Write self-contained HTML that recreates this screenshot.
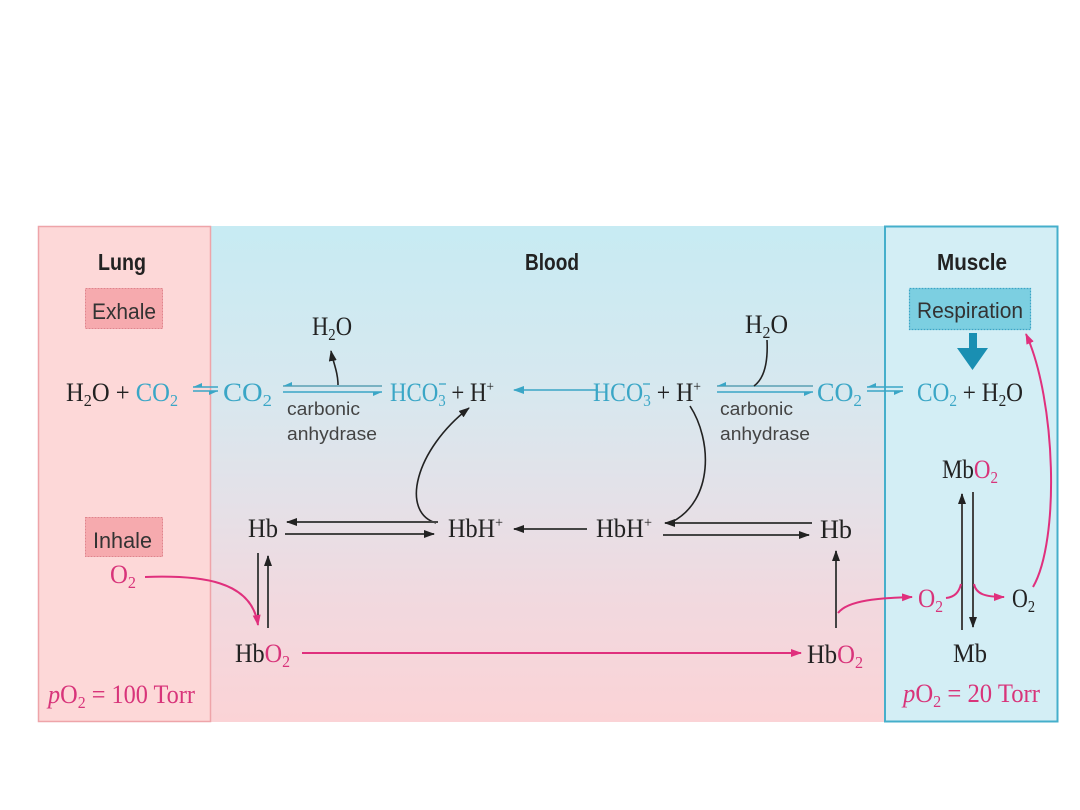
<!DOCTYPE html>
<html><head><meta charset="utf-8"><style>
html,body{margin:0;padding:0;background:#fff;}
svg{display:block;}
.s{font-family:"Liberation Serif",serif;font-size:26px;fill:#222;}
.h{font-family:"Liberation Sans",sans-serif;font-weight:bold;font-size:23px;fill:#222;}
.b{font-family:"Liberation Sans",sans-serif;font-size:22px;fill:#333;}
.ca{font-family:"Liberation Sans",sans-serif;font-size:18px;fill:#444;}
.c{fill:#3aa6c6;}
.m{fill:#d8347a;}
.k{fill:#222;}
</style></head><body>
<svg width="1080" height="810" viewBox="0 0 1080 810" xmlns="http://www.w3.org/2000/svg">
<defs>
<linearGradient id="bg" x1="0" y1="0" x2="0" y2="1">
<stop offset="0" stop-color="#c7ebf3"/>
<stop offset="0.33" stop-color="#d7e8ef"/>
<stop offset="0.55" stop-color="#e4e1e8"/>
<stop offset="0.75" stop-color="#f1d9df"/>
<stop offset="1" stop-color="#fbd3d6"/>
</linearGradient>
<marker id="ab" markerUnits="userSpaceOnUse" markerWidth="11" markerHeight="8" refX="10" refY="4" orient="auto"><path d="M0,0 L11,4 L0,8 z" fill="#222"/></marker>
<marker id="am" markerUnits="userSpaceOnUse" markerWidth="11" markerHeight="8" refX="10" refY="4" orient="auto"><path d="M0,0 L11,4 L0,8 z" fill="#e0307d"/></marker>
<marker id="ac" markerUnits="userSpaceOnUse" markerWidth="11" markerHeight="8" refX="10" refY="4" orient="auto"><path d="M0,0 L11,4 L0,8 z" fill="#3aa6c6"/></marker>
</defs>

<!-- panels -->
<rect x="211" y="226" width="674" height="496" fill="url(#bg)"/>
<rect x="38.5" y="226.5" width="172" height="495" fill="#fdd8d8" stroke="#eea4a9" stroke-width="1.5"/>
<rect x="885" y="226.5" width="172.5" height="495" fill="#d3eef5" stroke="#45afcb" stroke-width="2"/>

<!-- headings -->
<text class="h" x="98" y="270" textLength="48" lengthAdjust="spacingAndGlyphs">Lung</text>
<text class="h" x="525" y="270" textLength="54" lengthAdjust="spacingAndGlyphs">Blood</text>
<text class="h" x="937" y="270" textLength="70" lengthAdjust="spacingAndGlyphs">Muscle</text>

<!-- boxes -->
<rect x="85.5" y="288.5" width="77" height="40" fill="#f6aaae" stroke="#e0848c" stroke-width="1" stroke-dasharray="2,1"/>
<text class="b" x="92" y="319" textLength="64" lengthAdjust="spacingAndGlyphs">Exhale</text>
<rect x="85.5" y="517.5" width="77" height="39" fill="#f6aaae" stroke="#e0848c" stroke-width="1" stroke-dasharray="2,1"/>
<text class="b" x="93" y="548" textLength="59" lengthAdjust="spacingAndGlyphs">Inhale</text>
<rect x="909.5" y="288.5" width="121" height="41" fill="#7ccfe1" stroke="#3aa6c6" stroke-width="1.2" stroke-dasharray="2,1"/>
<text class="b" x="917" y="318" textLength="106" lengthAdjust="spacingAndGlyphs">Respiration</text>

<!-- big teal arrow -->
<polygon points="969,333 977,333 977,348 988,348 972.5,370 957,348 969,348" fill="#1a8fb2"/>

<!-- Row 1 text -->
<text class="s" x="66" y="401" textLength="112" lengthAdjust="spacingAndGlyphs"><tspan class="k">H</tspan><tspan class="k" font-size="17" dy="5">2</tspan><tspan class="k" dy="-5">O + </tspan><tspan class="c">CO</tspan><tspan class="c" font-size="17" dy="5">2</tspan></text>
<text class="s c" x="223" y="401" textLength="49" lengthAdjust="spacingAndGlyphs">CO<tspan font-size="17" dy="5">2</tspan></text>
<text class="s" x="390" y="401" textLength="104" lengthAdjust="spacingAndGlyphs"><tspan class="c">HCO</tspan><tspan class="c" font-size="17" dy="5">3</tspan><tspan class="k" dy="-5"> + H</tspan><tspan class="k" font-size="15" dy="-10">+</tspan></text>
<line x1="439" y1="384" x2="446" y2="384" stroke="#3aa6c6" stroke-width="1.3"/>
<text class="s" x="593" y="401" textLength="108" lengthAdjust="spacingAndGlyphs"><tspan class="c">HCO</tspan><tspan class="c" font-size="17" dy="5">3</tspan><tspan class="k" dy="-5"> + H</tspan><tspan class="k" font-size="15" dy="-10">+</tspan></text>
<line x1="643" y1="384" x2="650" y2="384" stroke="#3aa6c6" stroke-width="1.3"/>
<text class="s c" x="817" y="401" textLength="45" lengthAdjust="spacingAndGlyphs">CO<tspan font-size="17" dy="5">2</tspan></text>
<text class="s" x="917" y="401" textLength="106" lengthAdjust="spacingAndGlyphs"><tspan class="c">CO</tspan><tspan class="c" font-size="17" dy="5">2</tspan><tspan class="k" dy="-5"> + H</tspan><tspan class="k" font-size="17" dy="5">2</tspan><tspan class="k" dy="-5">O</tspan></text>

<text class="s" x="312" y="335" textLength="40" lengthAdjust="spacingAndGlyphs">H<tspan font-size="17" dy="5">2</tspan><tspan dy="-5">O</tspan></text>
<text class="s" x="745" y="333" textLength="43" lengthAdjust="spacingAndGlyphs">H<tspan font-size="17" dy="5">2</tspan><tspan dy="-5">O</tspan></text>

<text class="ca" x="287" y="415" textLength="73" lengthAdjust="spacingAndGlyphs">carbonic</text>
<text class="ca" x="287" y="440" textLength="90" lengthAdjust="spacingAndGlyphs">anhydrase</text>
<text class="ca" x="720" y="415" textLength="73" lengthAdjust="spacingAndGlyphs">carbonic</text>
<text class="ca" x="720" y="440" textLength="90" lengthAdjust="spacingAndGlyphs">anhydrase</text>

<!-- Row 1 equilibrium arrows -->
<g stroke="#3aa6c6" stroke-width="1.6" fill="#3aa6c6">
<line x1="193" y1="387" x2="218" y2="387"/><polygon points="193,387 202,383 202,387" stroke="none"/>
<line x1="193" y1="391" x2="218" y2="391"/><polygon points="218,391 209,395 209,391" stroke="none"/>
<line x1="283" y1="386" x2="382" y2="386" stroke="#5aa0b4"/><polygon points="283,386 292,382 292,386" stroke="none"/>
<line x1="283" y1="392" x2="382" y2="392"/><polygon points="382,392 373,396 373,392" stroke="none"/>
<line x1="717" y1="386" x2="813" y2="386" stroke="#5aa0b4"/><polygon points="717,386 726,382 726,386" stroke="none"/>
<line x1="717" y1="392" x2="813" y2="392"/><polygon points="813,392 804,396 804,392" stroke="none"/>
<line x1="867" y1="387" x2="903" y2="387"/><polygon points="867,387 876,383 876,387" stroke="none"/>
<line x1="867" y1="391" x2="903" y2="391"/><polygon points="903,391 894,395 894,391" stroke="none"/>
</g>
<line x1="598" y1="390" x2="514" y2="390" stroke="#3aa6c6" stroke-width="1.6" marker-end="url(#ac)"/>

<!-- H2O curves -->
<path d="M338,385 C338,372 333,362 331,351" fill="none" stroke="#222" stroke-width="1.6" marker-end="url(#ab)"/>
<path d="M767,340 C768,360 765,378 754,386" fill="none" stroke="#222" stroke-width="1.6"/>

<!-- middle curves -->
<path d="M436,523 C400,512 415,450 469,408" fill="none" stroke="#222" stroke-width="1.6" marker-end="url(#ab)"/>
<path d="M690,406 C712,440 714,500 672,522" fill="none" stroke="#222" stroke-width="1.6"/>

<!-- Row 2 text -->
<text class="s k" x="248" y="537" textLength="30" lengthAdjust="spacingAndGlyphs">Hb</text>
<text class="s k" x="448" y="537" textLength="55" lengthAdjust="spacingAndGlyphs">HbH<tspan font-size="15" dy="-10">+</tspan></text>
<text class="s k" x="596" y="537" textLength="56" lengthAdjust="spacingAndGlyphs">HbH<tspan font-size="15" dy="-10">+</tspan></text>
<text class="s k" x="820" y="538" textLength="32" lengthAdjust="spacingAndGlyphs">Hb</text>
<text class="s m" x="110" y="583" textLength="26" lengthAdjust="spacingAndGlyphs">O<tspan font-size="17" dy="5">2</tspan></text>
<text class="s" x="235" y="662" textLength="55" lengthAdjust="spacingAndGlyphs"><tspan class="k">Hb</tspan><tspan class="m">O</tspan><tspan class="m" font-size="17" dy="5">2</tspan></text>
<text class="s" x="807" y="663" textLength="56" lengthAdjust="spacingAndGlyphs"><tspan class="k">Hb</tspan><tspan class="m">O</tspan><tspan class="m" font-size="17" dy="5">2</tspan></text>
<text class="s" x="942" y="478" textLength="56" lengthAdjust="spacingAndGlyphs"><tspan class="k">Mb</tspan><tspan class="m">O</tspan><tspan class="m" font-size="17" dy="5">2</tspan></text>
<text class="s k" x="953" y="662" textLength="34" lengthAdjust="spacingAndGlyphs">Mb</text>
<text class="s m" x="918" y="607" textLength="25" lengthAdjust="spacingAndGlyphs">O<tspan font-size="17" dy="5">2</tspan></text>
<text class="s k" x="1012" y="607" textLength="23" lengthAdjust="spacingAndGlyphs">O<tspan font-size="17" dy="5">2</tspan></text>
<text class="s m" x="48" y="703" textLength="147" lengthAdjust="spacingAndGlyphs"><tspan font-style="italic">p</tspan>O<tspan font-size="17" dy="5">2</tspan><tspan dy="-5"> = 100 Torr</tspan></text>
<text class="s m" x="903" y="702" textLength="137" lengthAdjust="spacingAndGlyphs"><tspan font-style="italic">p</tspan>O<tspan font-size="17" dy="5">2</tspan><tspan dy="-5"> = 20 Torr</tspan></text>

<!-- Row 2 arrows -->
<g stroke="#444" stroke-width="2" fill="none">
<line x1="438" y1="522" x2="287" y2="522" marker-end="url(#ab)"/>
<line x1="285" y1="534" x2="434" y2="534" marker-end="url(#ab)"/>
<line x1="587" y1="529" x2="514" y2="529" marker-end="url(#ab)"/>
<line x1="812" y1="523" x2="665" y2="523" marker-end="url(#ab)"/>
<line x1="663" y1="535" x2="809" y2="535" marker-end="url(#ab)"/>
<line x1="258" y1="553" x2="258" y2="615"/>
<line x1="268" y1="628" x2="268" y2="556" marker-end="url(#ab)"/>
<line x1="836" y1="628" x2="836" y2="551" marker-end="url(#ab)"/>
<line x1="962" y1="630" x2="962" y2="494" marker-end="url(#ab)"/>
<line x1="973" y1="492" x2="973" y2="627" marker-end="url(#ab)"/>
</g>

<!-- magenta arrows -->
<g stroke="#e0307d" stroke-width="2" fill="none">
<path d="M145,577 C200,575 252,580 258,625" marker-end="url(#am)"/>
<line x1="302" y1="653" x2="801" y2="653" marker-end="url(#am)"/>
<path d="M838,613 C848,600 880,598 912,597" marker-end="url(#am)"/>
<path d="M946,598 C955,597 959,592 961,584"/>
<path d="M974,584 C976,594 985,597 1004,597" marker-end="url(#am)"/>
<path d="M1033,587 C1060,540 1056,400 1026,334" marker-end="url(#am)"/>
</g>
</svg>
</body></html>
